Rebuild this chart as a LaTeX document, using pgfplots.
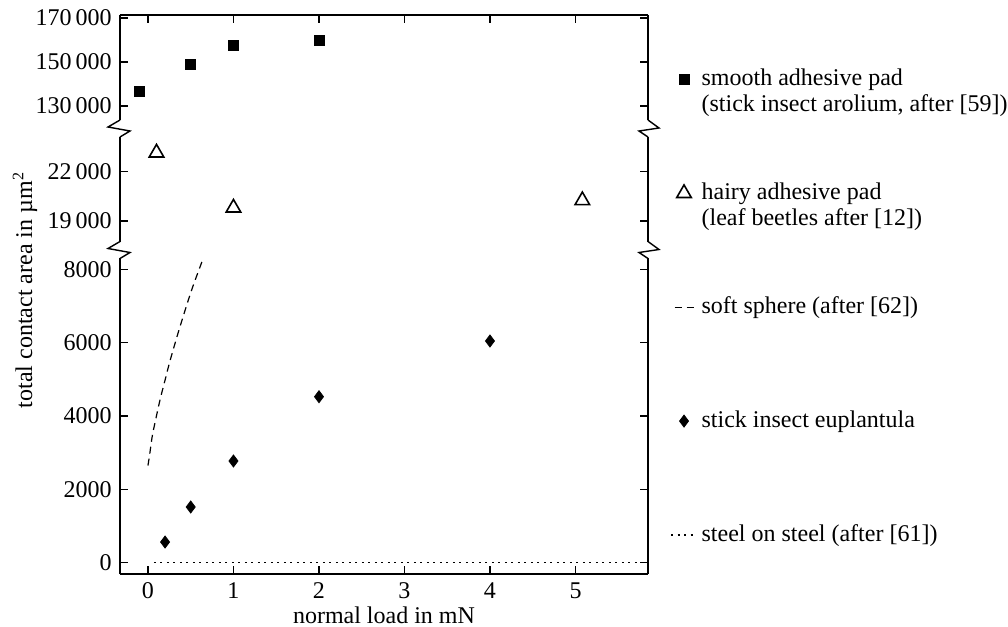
\documentclass[border=0pt]{standalone}
\usepackage{fontspec}
\setmainfont{Liberation Serif}
\usepackage{pgfplots}
\pgfplotsset{compat=1.18}

\pgfplotsset{
  seg/.style={
    scale only axis, width=264pt,
    xmin=-0.327, xmax=5.848,
    anchor=south west,
    axis line style={line width=0.7pt, -},
    tick style={line width=0.6pt, black},
    major tick length=4pt,
    tick align=inside,
    scaled y ticks=false,
    /pgf/number format/fixed,
    /pgf/number format/assume math mode=true,
    clip=false,
  },
  legend image code/.code={
    \path[draw=none, fill=none] (-6.5pt,3pt) -- (6.5pt,3pt);
    \draw[#1] plot coordinates {(0pt,3pt)};
  },
  lineleg/.style={legend image code/.code={
    \path[draw=none, fill=none] (-6.5pt,3pt) -- (6.5pt,3pt);
    \draw[##1] (-#1,3pt) -- (#1,3pt);}},
}

\begin{document}
\fontsize{12}{13}\selectfont
\begin{tikzpicture}
\useasboundingbox (0pt,0pt) rectangle (504pt,-313.5pt);

% top segment: smooth pads
\begin{axis}[seg, at={(60pt,-64.25pt)}, height=56.75pt,
    ymin=119773, ymax=171364,
    ytick={130000,150000,170000},
    /pgf/number format/1000 sep={\,},
    axis x line*=top, axis y line*=box,
    xtick={0,1,2,3,4,5}, xticklabels={,,,,,},
]
\addplot[only marks, mark=square*, mark size=2.5pt, black] coordinates {
  (-0.1,136500) (0.5,149000) (1,157400) (2,159700)};
\end{axis}

% middle segment: hairy pads
\begin{axis}[seg, at={(60pt,-125pt)}, height=60.75pt,
    ymin=17235, ymax=24629,
    ytick={19000,22000},
    /pgf/number format/1000 sep={\,},
    axis x line=none, axis y line*=box,
    xtick=\empty,
]
\addplot[only marks, mark=triangle, mark size=4.2pt, black, mark options={line width=0.8pt}] coordinates {
  (0.1,23150) (1,19800) (5.08,20250)};
\end{axis}

% bottom segment
\begin{axis}[seg, at={(60pt,-287pt)}, height=162pt,
    ymin=-308, ymax=8526,
    ytick={0,2000,4000,6000,8000},
    /pgf/number format/1000 sep={},
    axis x line*=bottom, axis y line*=box,
    xtick={0,1,2,3,4,5},
    xlabel={normal load in mN},
    xlabel style={yshift=4pt},
    legend style={at={(1.0417,1.5710)}, anchor=north west, draw=none, fill=none,
      inner sep=0pt, row sep=43.15pt, column sep=0pt,
      cells={anchor=base west, text height=8pt, text depth=3pt, inner sep=0pt}},
]
\addlegendimage{only marks, mark=square*, mark size=2.5pt, black}
\addlegendentry{\begin{tabular}[t]{@{}l@{}}smooth adhesive pad\\(stick insect arolium, after [59])\end{tabular}}
\addlegendimage{only marks, mark=triangle, mark size=4.2pt, black, mark options={line width=0.8pt}}
\addlegendentry{\begin{tabular}[t]{@{}l@{}}hairy adhesive pad\\(leaf beetles after [12])\end{tabular}}
\addplot[black, line width=0.6pt, dash pattern=on 3.5pt off 2.5pt, smooth, lineleg=4.75pt] coordinates {
  (0,2650) (0.02,2950) (0.05,3450) (0.09,3900) (0.14,4430) (0.2,4980)
  (0.26,5520) (0.37,6400) (0.51,7430) (0.645,8290)};
\addlegendentry{soft sphere (after [62])}
\addplot[only marks, mark=diamond*, mark size=3pt, black] coordinates {
  (0.2,564) (0.5,1519) (1,2773) (2,4526) (4,6045)};
\addlegendentry{stick insect euplantula}
\addplot[black, line width=0.6pt, dash pattern=on 1pt off 2.25pt, lineleg=6.5pt] coordinates {
  (0.07,0) (5.848,0)};
\addlegendentry{steel on steel (after [61])}
\end{axis}

% y label
\node[rotate=90] at (12.5pt,-145pt) {total contact area in µm\textsuperscript{2}};

% axis breaks
\foreach \yb in {-64.25,-125} {
  \fill[white] (58.5pt,\yb pt-4.2pt) rectangle (61.5pt,\yb pt+4.2pt);
  \fill[white] (322.5pt,\yb pt-4.2pt) rectangle (325.5pt,\yb pt+4.2pt);
  \draw[line width=0.7pt] (60pt,\yb pt+4.25pt) -- ++(-6pt,-3.5pt) -- ++(11pt,-2pt) -- ++(-5pt,-3pt);
  \draw[line width=0.7pt] (324pt,\yb pt+4.25pt) -- ++(5.5pt,-4pt) -- ++(-10pt,-1.5pt) -- ++(4.5pt,-3pt);
}
\end{tikzpicture}
\end{document}
